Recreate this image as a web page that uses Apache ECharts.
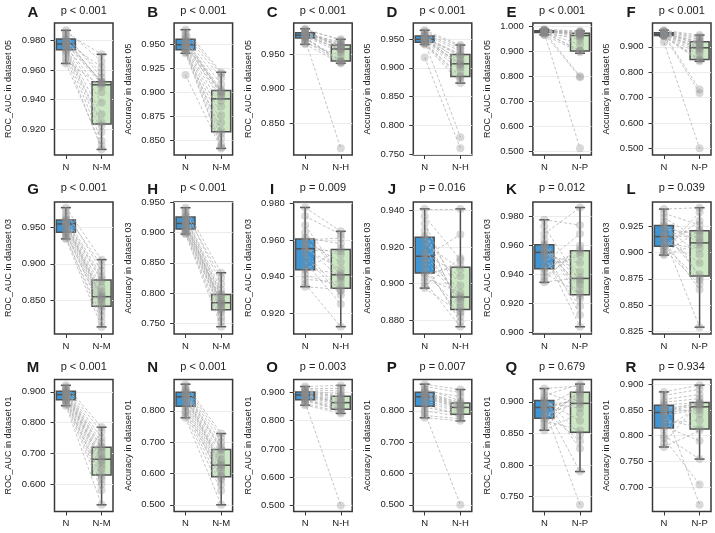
<!DOCTYPE html>
<html>
<head>
<meta charset="utf-8">
<script src="https://cdn.jsdelivr.net/npm/echarts@6/dist/echarts.min.js"></script>
<style>
  html, body { margin: 0; padding: 0; background: #fff; }
  #chart { width: 715px; height: 533px; }
</style>
</head>
<body>
<div id="chart"></div>
<script>
// ---- data (20 paired runs per panel) ----
// baseline model "N" per metric / dataset
const roc05N = [0.9812, 0.9748, 0.9790, 0.9645, 0.9855, 0.9772, 0.9730, 0.9800, 0.9690, 0.9765, 0.9825, 0.9738, 0.9870, 0.9758, 0.9778, 0.9715, 0.9805, 0.9665, 0.9840, 0.9782];
const acc05N = [0.9505, 0.9440, 0.9600, 0.9406, 0.9652, 0.9480, 0.9420, 0.9545, 0.9180, 0.9492, 0.9575, 0.9432, 0.9625, 0.9468, 0.9498, 0.9452, 0.9530, 0.9488, 0.9560, 0.9515];
const roc03N = [0.9555, 0.9435, 0.9640, 0.9345, 0.9777, 0.9510, 0.9385, 0.9600, 0.9360, 0.9545, 0.9680, 0.9410, 0.9730, 0.9480, 0.9575, 0.9445, 0.9610, 0.9530, 0.9590, 0.9565];
const acc03N = [0.9155, 0.9050, 0.9290, 0.8975, 0.9410, 0.9110, 0.8990, 0.9250, 0.9010, 0.9145, 0.9330, 0.9030, 0.9370, 0.9085, 0.9170, 0.9060, 0.9260, 0.9130, 0.9220, 0.9190];
const roc01N = [0.8930, 0.8730, 0.9060, 0.8550, 0.9210, 0.8850, 0.8600, 0.9010, 0.8650, 0.8900, 0.9150, 0.8700, 0.9100, 0.8800, 0.8950, 0.8755, 0.9030, 0.8880, 0.8980, 0.8915];
const acc01N = [0.850, 0.812, 0.865, 0.778, 0.885, 0.832, 0.785, 0.858, 0.795, 0.847, 0.878, 0.800, 0.870, 0.825, 0.852, 0.818, 0.860, 0.840, 0.855, 0.843];

// compared models, one array per panel (same order as the N runs)
const compA = [0.9510, 0.9245, 0.9620, 0.9085, 0.9707, 0.9380, 0.9180, 0.9520, 0.9061, 0.9450, 0.9580, 0.9225, 0.9660, 0.9300, 0.9505, 0.9120, 0.9515, 0.9490, 0.9550, 0.9522];
const compB = [0.9010, 0.8600, 0.9150, 0.8425, 0.9208, 0.8760, 0.8450, 0.9025, 0.8413, 0.8950, 0.9080, 0.8520, 0.9190, 0.8680, 0.8990, 0.8570, 0.9000, 0.8850, 0.8970, 0.8910];
const compC = [0.9640, 0.9410, 0.9680, 0.9370, 0.9717, 0.9572, 0.9392, 0.9632, 0.9380, 0.9582, 0.9660, 0.9400, 0.9700, 0.9530, 0.9615, 0.8138, 0.9625, 0.9480, 0.9600, 0.9560];
const compD = [0.9240, 0.8860, 0.9330, 0.8735, 0.9396, 0.9065, 0.8790, 0.9225, 0.7604, 0.9075, 0.9290, 0.8840, 0.9370, 0.8950, 0.9150, 0.7795, 0.9200, 0.9010, 0.9100, 0.9050];
const compE = [0.972, 0.902, 0.976, 0.895, 0.980, 0.960, 0.900, 0.970, 0.795, 0.964, 0.974, 0.925, 0.978, 0.945, 0.968, 0.511, 0.970, 0.955, 0.966, 0.799];
const compF = [0.922, 0.852, 0.935, 0.843, 0.946, 0.894, 0.848, 0.918, 0.500, 0.898, 0.928, 0.870, 0.940, 0.880, 0.910, 0.718, 0.915, 0.890, 0.905, 0.732];
const compG = [0.8580, 0.8350, 0.8830, 0.8128, 0.9058, 0.8500, 0.8200, 0.8760, 0.8280, 0.8552, 0.8980, 0.8400, 0.8900, 0.8460, 0.8620, 0.8430, 0.8790, 0.8520, 0.8680, 0.8540];
const compH = [0.7860, 0.7680, 0.8050, 0.7444, 0.8335, 0.7800, 0.7530, 0.7970, 0.7600, 0.7845, 0.8250, 0.7715, 0.8150, 0.7770, 0.7890, 0.7735, 0.7985, 0.7820, 0.7930, 0.7835];
const compI = [0.9440, 0.9555, 0.9405, 0.9330, 0.9647, 0.9300, 0.9370, 0.9610, 0.9127, 0.9540, 0.9400, 0.9345, 0.9630, 0.9250, 0.9520, 0.9415, 0.9580, 0.9320, 0.9480, 0.9390];
const compJ = [0.8930, 0.9100, 0.8850, 0.8840, 0.9410, 0.8790, 0.9140, 0.8880, 0.8763, 0.9270, 0.8922, 0.8950, 0.9130, 0.8820, 0.9040, 0.8865, 0.8990, 0.8915, 0.9080, 0.8900];
const compK = [0.9420, 0.9570, 0.9250, 0.9380, 0.9740, 0.9180, 0.9555, 0.9300, 0.9600, 0.9038, 0.9862, 0.9270, 0.9350, 0.9680, 0.9120, 0.9530, 0.9230, 0.9480, 0.9365, 0.9330];
const compL = [0.9150, 0.9300, 0.8760, 0.9080, 0.9423, 0.8650, 0.9210, 0.8980, 0.9380, 0.8293, 0.9120, 0.8700, 0.9260, 0.9040, 0.9200, 0.8740, 0.9100, 0.8900, 0.9180, 0.8790];
const compM = [0.690, 0.615, 0.735, 0.533, 0.785, 0.660, 0.580, 0.718, 0.600, 0.684, 0.770, 0.625, 0.750, 0.650, 0.700, 0.635, 0.722, 0.672, 0.710, 0.678];
const compN = [0.635, 0.580, 0.685, 0.500, 0.7275, 0.612, 0.545, 0.675, 0.565, 0.628, 0.715, 0.588, 0.700, 0.600, 0.645, 0.592, 0.678, 0.620, 0.660, 0.625];
const compO = [0.870, 0.840, 0.895, 0.826, 0.925, 0.855, 0.832, 0.886, 0.500, 0.865, 0.915, 0.837, 0.905, 0.848, 0.876, 0.842, 0.888, 0.860, 0.882, 0.863];
const compP = [0.815, 0.788, 0.845, 0.768, 0.868, 0.803, 0.775, 0.824, 0.500, 0.812, 0.858, 0.782, 0.832, 0.798, 0.818, 0.790, 0.826, 0.808, 0.821, 0.810];
const compQ = [0.903, 0.916, 0.848, 0.882, 0.925, 0.838, 0.911, 0.870, 0.919, 0.737, 0.896, 0.855, 0.928, 0.899, 0.7895, 0.914, 0.826, 0.907, 0.890, 0.922];
const compR = [0.862, 0.858, 0.872, 0.810, 0.898, 0.815, 0.866, 0.842, 0.705, 0.860, 0.890, 0.7545, 0.880, 0.830, 0.863, 0.790, 0.864, 0.850, 0.666, 0.854];

// box summaries [whisker low, Q1, median, Q3, whisker high]
const boxRoc05N = [0.9645, 0.9738, 0.9777, 0.9812, 0.9870];
const boxAcc05N = [0.9406, 0.9444, 0.9495, 0.9553, 0.9652];
const boxRoc03N = [0.9345, 0.9438, 0.9552, 0.9605, 0.9777];
const boxAcc03N = [0.8975, 0.9058, 0.9150, 0.9255, 0.9410];
const boxRoc01N = [0.8550, 0.8740, 0.8910, 0.9020, 0.9210];
const boxAcc01N = [0.7780, 0.8150, 0.8450, 0.8590, 0.8850];
const boxComp = [
  [0.9061, 0.9234, 0.9500, 0.9521, 0.9707], [0.8413, 0.8587, 0.8930, 0.9017, 0.9208],
  [0.9370, 0.9403, 0.9577, 0.9635, 0.9717], [0.8735, 0.8850, 0.9070, 0.9233, 0.9396],
  [0.8910, 0.9000, 0.9620, 0.9710, 0.9800], [0.8430, 0.8500, 0.8960, 0.9200, 0.9460],
  [0.8128, 0.8414, 0.8546, 0.8776, 0.9058], [0.7444, 0.7725, 0.7840, 0.7978, 0.8335],
  [0.9127, 0.9337, 0.9410, 0.9548, 0.9647], [0.8763, 0.8857, 0.8926, 0.9090, 0.9410],
  [0.9038, 0.9260, 0.9372, 0.9563, 0.9862], [0.8293, 0.8776, 0.9090, 0.9204, 0.9423],
  [0.5330, 0.6300, 0.6810, 0.7197, 0.7850], [0.5000, 0.5895, 0.6265, 0.6765, 0.7275],
  [0.8260, 0.8410, 0.8640, 0.8870, 0.9250], [0.7680, 0.7890, 0.8110, 0.8250, 0.8680],
  [0.7895, 0.8517, 0.8975, 0.9150, 0.9280], [0.7545, 0.8128, 0.8560, 0.8645, 0.8980]
];

// labels / ticks
const letters = ['A','B','C','D','E','F','G','H','I','J','K','L','M','N','O','P','Q','R'];
const pTexts = ['p < 0.001','p < 0.001','p < 0.001','p < 0.001','p < 0.001','p < 0.001',
                'p < 0.001','p < 0.001','p = 0.009','p = 0.016','p = 0.012','p = 0.039',
                'p < 0.001','p < 0.001','p = 0.003','p = 0.007','p = 0.679','p = 0.934'];
const metrics = ['ROC_AUC', 'Accuracy'];
const datasets = ['05', '03', '01'];
const compNames = ['N-M', 'N-M', 'N-H', 'N-H', 'N-P', 'N-P'];
const yTicks = [
  [0.92, 0.94, 0.96, 0.98], [0.85, 0.875, 0.9, 0.925, 0.95], [0.85, 0.9, 0.95],
  [0.75, 0.8, 0.85, 0.9, 0.95], [0.5, 0.6, 0.7, 0.8, 0.9, 1.0], [0.5, 0.6, 0.7, 0.8, 0.9],
  [0.85, 0.9, 0.95], [0.75, 0.8, 0.85, 0.9, 0.95], [0.92, 0.94, 0.96, 0.98],
  [0.88, 0.9, 0.92, 0.94], [0.9, 0.92, 0.94, 0.96, 0.98], [0.825, 0.85, 0.875, 0.9, 0.925],
  [0.6, 0.7, 0.8, 0.9], [0.5, 0.6, 0.7, 0.8], [0.5, 0.6, 0.7, 0.8, 0.9],
  [0.5, 0.6, 0.7, 0.8], [0.75, 0.8, 0.85, 0.9], [0.7, 0.75, 0.8, 0.85, 0.9]
];
const yLimits = [
  [0.9023, 0.9920], [0.8344, 0.9722], [0.8041, 0.9954], [0.7488, 0.9778], [0.484, 1.012], [0.4735, 0.9937],
  [0.803, 0.9855], [0.7323, 0.9505], [0.9087, 0.9807], [0.8723, 0.9448], [0.8988, 0.990], [0.8228, 0.9477],
  [0.5113, 0.940], [0.4787, 0.900], [0.4788, 0.9459], [0.4787, 0.900], [0.7263, 0.9353], [0.6527, 0.9091]
];

const nRuns = [[roc05N, acc05N], [roc03N, acc03N], [roc01N, acc01N]];
const nBoxes = [[boxRoc05N, boxAcc05N], [boxRoc03N, boxAcc03N], [boxRoc01N, boxAcc01N]];
const compRuns = [compA, compB, compC, compD, compE, compF, compG, compH, compI,
                  compJ, compK, compL, compM, compN, compO, compP, compQ, compR];

// ---- layout / style ----
const FONT = '"Liberation Sans", Arial, sans-serif';
const TEXT = '#222';
const FRAME = '#383838';
const EDGE = '#505050';
const BLUE = '#3d95d5';
const GREEN = '#cde8c5';
const colLeft0 = 54.5, colStep = 119.6, plotW = 58.5, plotH = 132;
const rowTop = [23, 202, 379.5];
const letterY = [13.3, 190, 368];
const pY = [10.8, 187.5, 366.7];
const BOX_W = 19, CAP_W = 10;

function renderBox(params, api) {
  const x = api.value(0);
  const lo = api.coord([x, api.value(1)]);
  const q1 = api.coord([x, api.value(2)]);
  const md = api.coord([x, api.value(3)]);
  const q3 = api.coord([x, api.value(4)]);
  const hi = api.coord([x, api.value(5)]);
  const cx = lo[0], h = BOX_W / 2, c = CAP_W / 2;
  const st = {stroke: EDGE, lineWidth: 1.5};
  return {
    type: 'group',
    children: [
      {type: 'line', shape: {x1: cx, y1: lo[1], x2: cx, y2: q1[1]}, style: st},
      {type: 'line', shape: {x1: cx, y1: q3[1], x2: cx, y2: hi[1]}, style: st},
      {type: 'line', shape: {x1: cx - c, y1: lo[1], x2: cx + c, y2: lo[1]}, style: st},
      {type: 'line', shape: {x1: cx - c, y1: hi[1], x2: cx + c, y2: hi[1]}, style: st},
      {type: 'rect', shape: {x: cx - h, y: q3[1], width: BOX_W, height: q1[1] - q3[1]},
        style: {fill: x === 0 ? BLUE : GREEN, stroke: EDGE, lineWidth: 1.5}},
      {type: 'line', shape: {x1: cx - h, y1: md[1], x2: cx + h, y2: md[1]}, style: st}
    ]
  };
}

const grids = [], xAxes = [], yAxes = [], series = [], titles = [];
for (let i = 0; i < 18; i++) {
  const r = Math.floor(i / 6), c = i % 6;
  const left = colLeft0 + c * colStep, top = rowTop[r];
  const nVals = nRuns[r][c % 2];
  const cVals = compRuns[i];
  const cName = compNames[c];

  grids.push({left: left, top: top, width: plotW, height: plotH, show: true,
    borderColor: FRAME, borderWidth: 1.5, outerBoundsMode: 'none'});

  xAxes.push({
    type: 'value', gridIndex: i, min: -0.32, max: 1.32,
    axisLine: {show: false, onZero: false},
    axisTick: {show: true, length: 4, customValues: [0, 1], lineStyle: {color: FRAME, width: 1}},
    axisLabel: {customValues: [0, 1], margin: 7, fontSize: 9.5, fontFamily: FONT, color: TEXT,
      formatter: v => (v === 0 ? 'N' : cName)},
    splitLine: {show: false}
  });

  yAxes.push({
    type: 'value', gridIndex: i, min: yLimits[i][0], max: yLimits[i][1],
    name: metrics[c % 2] + ' in dataset ' + datasets[r],
    nameLocation: 'middle', nameGap: 41,
    nameTextStyle: {fontSize: 9, fontFamily: FONT, color: TEXT},
    axisLine: {show: false, onZero: false},
    axisTick: {show: true, length: 4, customValues: yTicks[i], lineStyle: {color: FRAME, width: 1}},
    axisLabel: {customValues: yTicks[i], margin: 9, fontSize: 9.5, fontFamily: FONT, color: TEXT,
      formatter: v => v.toFixed(3)},
    splitLine: {show: true, lineStyle: {color: '#ececec', width: 1}}
  });

  series.push({
    type: 'custom', xAxisIndex: i, yAxisIndex: i, renderItem: renderBox, z: 2, silent: true,
    data: [[0].concat(nBoxes[r][c % 2]), [1].concat(boxComp[i])]
  });

  series.push({
    type: 'lines', coordinateSystem: 'cartesian2d', xAxisIndex: i, yAxisIndex: i, z: 3, silent: true,
    data: nVals.map((v, k) => ({coords: [[0, v], [1, cVals[k]]]})),
    lineStyle: {color: '#b0b0b0', width: 1, type: [3, 2], opacity: 0.75}
  });

  series.push({
    type: 'scatter', xAxisIndex: i, yAxisIndex: i, z: 4, silent: true, symbolSize: 8,
    data: nVals.map(v => [0, v]).concat(cVals.map(v => [1, v])),
    itemStyle: {color: '#8a8a8a', opacity: 0.32}
  });

  titles.push({
    text: letters[i], left: left - 21.5, top: letterY[r], padding: 0,
    textAlign: 'center', textVerticalAlign: 'middle',
    textStyle: {fontSize: 15, fontWeight: 'bold', fontFamily: FONT, color: '#1a1a1a'}
  });
  titles.push({
    text: pTexts[i], left: left + plotW / 2, top: pY[r], padding: 0,
    textAlign: 'center', textVerticalAlign: 'middle',
    textStyle: {fontSize: 11, fontWeight: 'normal', fontFamily: FONT, color: TEXT}
  });
}

const chart = echarts.init(document.getElementById('chart'));
chart.setOption({
  animation: false,
  backgroundColor: '#fff',
  title: titles,
  grid: grids,
  xAxis: xAxes,
  yAxis: yAxes,
  series: series
});
</script>
</body>
</html>
